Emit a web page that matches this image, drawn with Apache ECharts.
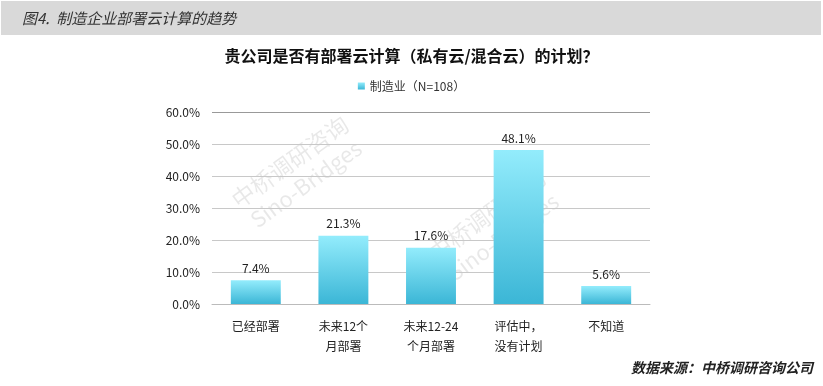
<!DOCTYPE html>
<html><head><meta charset="utf-8">
<script src="https://cdn.jsdelivr.net/npm/echarts@6/dist/echarts.min.js"></script>
<style>html,body{margin:0;padding:0;background:#fff}#c{width:823px;height:386px}</style>
</head><body><div id="c"></div>
<script>
var categories = ['已经部署', '未来12个\n月部署', '未来12-24\n个月部署', '评估中，\n没有计划', '不知道'];
var values = [7.4, 21.3, 17.6, 48.1, 5.6];
var seriesName = '制造业（N=108）';
var yTicks = {min: 0, max: 60, interval: 10};
var figTitle = '图4.  制造企业部署云计算的趋势';
var chartTitle = '贵公司是否有部署云计算（私有云/混合云）的计划？';
var sourceText = '数据来源：中桥调研咨询公司';

var font = '"Noto Sans CJK SC", "Liberation Sans", sans-serif';
var chart = echarts.init(document.getElementById('c'), null, {renderer: 'canvas'});
var grad = new echarts.graphic.LinearGradient(0, 0, 0, 1, [
  {offset: 0, color: '#93ecfc'},
  {offset: 1, color: '#3bb6d6'}
]);
function wm(x, y) {
  return {
    type: 'group', x: x, y: y, rotation: Math.PI * 36 / 180, z: -1, zlevel: 0,
    children: [
      {type: 'text', x: 0, y: 0, z: -1, silent: true, style: {text: '中桥调研咨询', font: '23px ' + font, fill: 'rgba(0,0,0,0.09)', textAlign: 'center', textVerticalAlign: 'middle'}},
      {type: 'text', x: 0, y: 27, z: -1, silent: true, style: {text: 'Sino-Bridges', font: '22px ' + font, fill: 'rgba(0,0,0,0.09)', textAlign: 'center', textVerticalAlign: 'middle'}}
    ]
  };
}
chart.setOption({
  backgroundColor: '#fff',
  animation: false,
  textStyle: {fontFamily: font},
  title: {
    text: chartTitle, left: 'center', top: 43,
    textStyle: {fontSize: 16, fontWeight: 'bold', color: '#111', fontFamily: font}
  },
  legend: {
    data: [seriesName], top: 75, left: 'center',
    itemWidth: 7, itemHeight: 7, itemGap: 4,
    textStyle: {fontSize: 12, color: '#333', fontFamily: font},
    icon: 'rect'
  },
  grid: {left: 212, right: 173, top: 112, bottom: 82},
  xAxis: {
    type: 'category', data: categories,
    axisLine: {lineStyle: {color: '#bbb'}},
    axisTick: {show: false},
    axisLabel: {fontSize: 12, color: '#222', margin: 12, lineHeight: 20, fontFamily: font}
  },
  yAxis: {
    type: 'value', min: yTicks.min, max: yTicks.max, interval: yTicks.interval,
    axisLine: {show: false}, axisTick: {show: false},
    axisLabel: {fontSize: 12, color: '#222', margin: 12, formatter: function (v) { return v.toFixed(1) + '%'; }, fontFamily: font},
    splitLine: {lineStyle: {color: ['#c8c8c8', '#c8c8c8', '#c8c8c8', '#c8c8c8', '#c8c8c8', '#c8c8c8', '#999']}}
  },
  series: [{
    name: seriesName, type: 'bar', data: values, barWidth: '57%', z: 5,
    itemStyle: {color: grad},
    label: {show: true, position: 'top', distance: 6, fontSize: 12, color: '#222',
      formatter: function (p) { return p.value.toFixed(1) + '%'; }}
  }],
  graphic: [
    {type: 'rect', shape: {x: 1, y: 1, width: 820, height: 34}, style: {fill: '#d9d9d9'}, z: -2},
    {type: 'text', x: 22, y: 18, style: {text: figTitle, font: 'italic 15px ' + font, fill: '#333', textVerticalAlign: 'middle'}},
    {type: 'text', x: 813, y: 368, style: {text: sourceText, font: 'italic bold 14px ' + font, fill: '#222', textAlign: 'right', textVerticalAlign: 'middle'}},
    wm(290, 162),
    wm(487, 215)
  ]
});
</script></body></html>
